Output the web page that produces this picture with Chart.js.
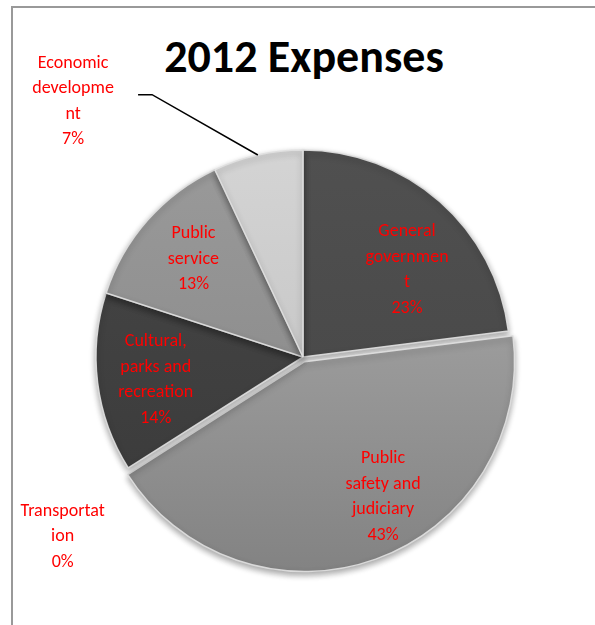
<!DOCTYPE html>
<html>
<head>
<meta charset="utf-8">
<title>2012 Expenses</title>
<script src="https://cdn.jsdelivr.net/npm/chart.js@4.4.1/dist/chart.umd.min.js"></script>
<style>
  html, body { margin: 0; padding: 0; background: #fff; overflow: hidden; }
  #wrap { position: relative; width: 595px; height: 625px; }
  #frame {
    position: absolute; left: 11px; top: 6px; width: 700px; height: 700px;
    border: 2px solid #999; box-sizing: border-box;
  }
  #title {
    position: absolute; left: 0; right: -13px; top: 31px; margin: 0;
    text-align: center; font-family: Carlito, Calibri, Lato, sans-serif;
    font-weight: bold; font-size: 46px; line-height: 50px; color: #000;
  }
  #chartCanvas { position: absolute; left: 0; top: 0; }
</style>
</head>
<body>
<div id="wrap">
  <div id="frame"></div>
  <h1 id="title">2012 Expenses</h1>
  <canvas id="chartCanvas" width="595" height="625"></canvas>
</div>
<script>
// expense categories, clockwise from 12 o'clock
const categories = ['General government', 'Public safety and judiciary', 'Transportation',
  'Cultural, parks and recreation', 'Public service', 'Economic development'];
const shares = [23, 43, 0, 14, 13, 7];
// how each category name wraps inside its label box
const labelLines = [
  ['General', 'governmen', 't'],
  ['Public', 'safety and', 'judiciary'],
  ['Transportat', 'ion'],
  ['Cultural,', 'parks and', 'recreation'],
  ['Public', 'service'],
  ['Economic', 'developme', 'nt']
];

// top / bottom shade of each slice
const shadeTop = ['#505050', '#afafaf', '#777777', '#474747', '#9a9a9a', '#d4d4d4'];
const shadeBottom = ['#444444', '#838383', '#666666', '#393939', '#848484', '#bdbdbd'];
const sliceOffset = [0, 20, 0, 0, 0, 0];

// label spot: turn (deg) from the slice middle and distance in radii
const labelSpots = [
  { turn: 8.7, dist: 0.655 },
  { turn: -9.9, dist: 0.78 },
  { turn: -4.4, dist: 1.45 },
  { turn: -1.6, dist: 0.72 },
  { turn: 0.4, dist: 0.71 },
  { turn: -29.4, dist: 1.66, leader: true }
];

function sliceFill(context) {
  const chart = context.chart;
  const i = context.dataIndex;
  const area = chart.chartArea;
  if (!area) return shadeTop[i];
  const cy = (area.top + area.bottom) / 2;
  const g = chart.ctx.createLinearGradient(0, cy - 207, 0, cy + 207);
  g.addColorStop(0, shadeTop[i]);
  g.addColorStop(1, shadeBottom[i]);
  return g;
}

const softShadow = {
  id: 'softShadow',
  beforeDatasetsDraw(chart) {
    const ctx = chart.ctx;
    ctx.save();
    ctx.shadowColor = 'rgba(0,0,0,0.35)';
    ctx.shadowBlur = 6;
    ctx.shadowOffsetY = 3;
  },
  afterDatasetsDraw(chart) {
    chart.ctx.restore();
  }
};

const sliceLabels = {
  id: 'sliceLabels',
  afterDatasetsDraw(chart) {
    const ctx = chart.ctx;
    const meta = chart.getDatasetMeta(0);
    const data = chart.data.datasets[0].data;
    const total = data.reduce((a, b) => a + b, 0);
    const lineH = 25.5;
    ctx.save();
    ctx.font = '18px Carlito, Calibri, Lato, sans-serif';
    ctx.fillStyle = '#ff0000';
    ctx.textAlign = 'center';
    ctx.textBaseline = 'middle';
    meta.data.forEach((arc, i) => {
      const spot = labelSpots[i];
      const mid = (arc.startAngle + arc.endAngle) / 2;
      const ang = mid + spot.turn * Math.PI / 180;
      const r = arc.outerRadius * spot.dist;
      const lx = arc.x + Math.cos(ang) * r;
      const ly = arc.y + Math.sin(ang) * r;
      const lines = labelLines[i].concat([Math.round(data[i] / total * 100) + '%']);
      const y0 = ly - (lines.length - 1) * lineH / 2;
      lines.forEach((t, k) => ctx.fillText(t, lx, y0 + k * lineH));
      if (spot.leader) {
        const ex = arc.x + Math.cos(mid) * arc.outerRadius;
        const ey = arc.y + Math.sin(mid) * arc.outerRadius;
        ctx.beginPath();
        ctx.strokeStyle = '#000';
        ctx.lineWidth = 1.5;
        ctx.moveTo(lx + 65, ly - 7);
        ctx.lineTo(lx + 79, ly - 7);
        ctx.lineTo(ex, ey);
        ctx.stroke();
      }
    });
    ctx.restore();
  }
};

const ctx = document.getElementById('chartCanvas').getContext('2d');
const myChart = new Chart(ctx, {
  type: 'pie',
  data: {
    labels: categories,
    datasets: [{
      data: shares,
      backgroundColor: sliceFill,
      borderColor: 'rgba(225,225,225,0.9)',
      borderWidth: 1.5,
      offset: sliceOffset,
      radius: 207
    }]
  },
  options: {
    responsive: false,
    animation: false,
    layout: { padding: { left: 11, right: 0, top: 100, bottom: 11 } },
    plugins: {
      legend: { display: false },
      tooltip: { enabled: false },
      title: { display: false }
    }
  },
  plugins: [softShadow, sliceLabels]
});
</script>
</body>
</html>
